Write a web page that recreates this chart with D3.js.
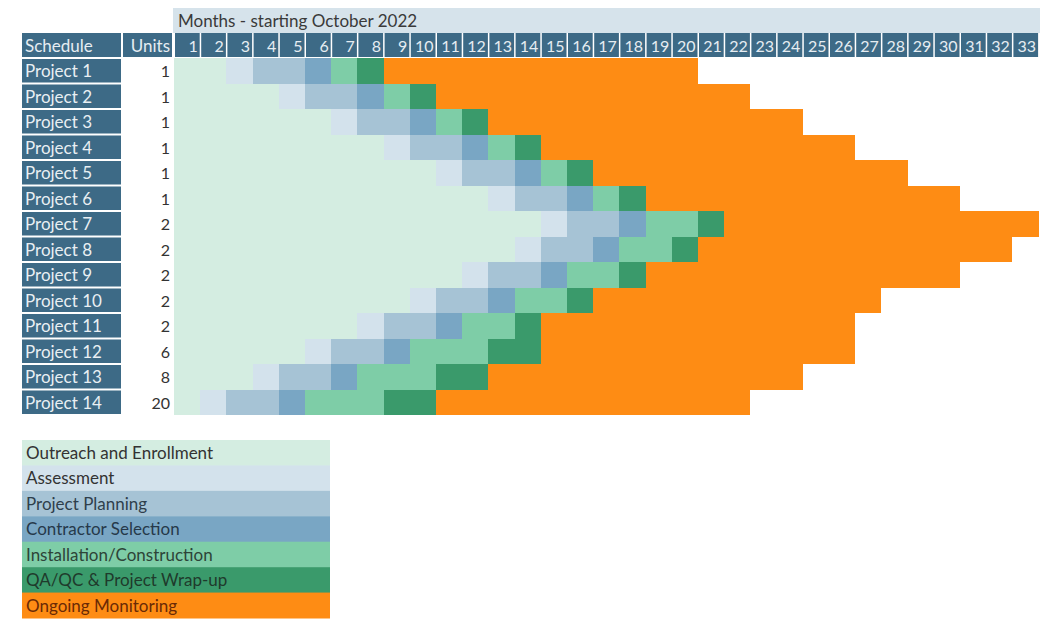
<!doctype html>
<html>
<head>
<meta charset="utf-8">
<script src="https://cdn.jsdelivr.net/npm/d3@7"></script>
<style>
  body { margin: 0; background: #fff; }
  text { font-family: Lato, "Open Sans", sans-serif; }
</style>
</head>
<body>
<div id="chart"></div>
<script>
// chart values
const projects = ["Project 1", "Project 2", "Project 3", "Project 4", "Project 5", "Project 6", "Project 7",
  "Project 8", "Project 9", "Project 10", "Project 11", "Project 12", "Project 13", "Project 14"];
const units = [1, 1, 1, 1, 1, 1, 2, 2, 2, 2, 2, 6, 8, 20];
const months = d3.range(1, 34);
const phases = ["Outreach and Enrollment", "Assessment", "Project Planning", "Contractor Selection",
  "Installation/Construction", "QA/QC & Project Wrap-up", "Ongoing Monitoring"];
const phaseColors = ["#d4ede1", "#d3e2ec", "#a6c3d5", "#79a6c4", "#7ecda7", "#3a9a6b", "#fe8c14"];
const phaseText = ["#333", "#333", "#2f3f4c", "#26394a", "#2d4438", "#1f3a2c", "#6a2a06"];
// months spent in each phase, per project (same order as phases)
const durations = [
  [2, 1, 2, 1, 1, 1, 12],
  [4, 1, 2, 1, 1, 1, 12],
  [6, 1, 2, 1, 1, 1, 12],
  [8, 1, 2, 1, 1, 1, 12],
  [10, 1, 2, 1, 1, 1, 12],
  [12, 1, 2, 1, 1, 1, 12],
  [14, 1, 2, 1, 2, 1, 12],
  [13, 1, 2, 1, 2, 1, 12],
  [11, 1, 2, 1, 2, 1, 12],
  [9, 1, 2, 1, 2, 1, 11],
  [7, 1, 2, 1, 2, 1, 12],
  [5, 1, 2, 1, 3, 2, 12],
  [3, 1, 2, 1, 3, 2, 12],
  [1, 1, 2, 1, 3, 2, 12]
];

var width = 1040, height = 628;
var headColor = "#3d6a86";
var lightText = "#e6edf2";

var svg = d3.select("#chart").append("svg")
  .attr("width", width).attr("height", height);

var x = d3.scaleBand().domain(months).range([174, 174 + 33 * 26.2]);
var y = d3.scaleBand().domain(projects).range([58, 415]);
var rowH = y.bandwidth();

// flatten into segments
var segs = [];
durations.forEach(function(d, i) {
  var start = 1;
  d.forEach(function(len, p) {
    segs.push({project: projects[i], phase: p, start: start, end: start + len - 1});
    start += len;
  });
});

// top band
svg.append("rect").attr("x", 173).attr("y", 8).attr("width", width - 173).attr("height", 25)
  .attr("fill", "#d6e3eb");
svg.append("text").attr("x", 178).attr("y", 27).attr("font-size", 17).attr("fill", "#3a3a3a")
  .text("Months - starting October 2022");

// header row
var hy = 33, hh = 25;
svg.append("rect").attr("x", 22).attr("y", hy).attr("width", 99).attr("height", hh - 1).attr("fill", headColor);
svg.append("text").attr("x", 25).attr("y", hy + 19).attr("font-size", 17).attr("fill", lightText).text("Schedule");
svg.append("rect").attr("x", 123).attr("y", hy).attr("width", 49).attr("height", hh - 1).attr("fill", headColor);
svg.append("text").attr("x", 170).attr("y", hy + 19).attr("font-size", 17).attr("text-anchor", "end")
  .attr("fill", lightText).text("Units");

svg.selectAll(".mhead").data(months).enter().append("rect")
  .attr("class", "mhead")
  .attr("x", d => x(d) + 1)
  .attr("y", hy)
  .attr("width", x.bandwidth() - 1.5)
  .attr("height", hh - 1)
  .attr("fill", headColor);
svg.selectAll(".mlab").data(months).enter().append("text")
  .attr("class", "mlab")
  .attr("x", d => x(d) + x.bandwidth() - 2.5)
  .attr("y", hy + 19)
  .attr("text-anchor", "end")
  .attr("font-size", 16)
  .attr("fill", lightText)
  .text(d => d);

// project label cells
svg.selectAll(".plab").data(projects).enter().append("rect")
  .attr("class", "plab")
  .attr("x", 22).attr("y", d => y(d) + 1)
  .attr("width", 99).attr("height", rowH - 2)
  .attr("fill", headColor);
svg.selectAll(".ptxt").data(projects).enter().append("text")
  .attr("class", "ptxt")
  .attr("x", 25).attr("y", d => y(d) + 19)
  .attr("font-size", 17).attr("fill", "#e9eff3")
  .text(d => d);
svg.selectAll(".utxt").data(units).enter().append("text")
  .attr("class", "utxt")
  .attr("x", 170).attr("y", (d, i) => y(projects[i]) + 19)
  .attr("text-anchor", "end")
  .attr("font-size", 16).attr("fill", "#333")
  .text(d => d);

// gantt cells
svg.append("g").attr("shape-rendering", "crispEdges")
  .selectAll("rect").data(segs).enter().append("rect")
  .attr("x", d => x(d.start))
  .attr("y", d => y(d.project))
  .attr("width", d => x(d.end) + x.bandwidth() - x(d.start))
  .attr("height", rowH)
  .attr("fill", d => phaseColors[d.phase]);

// legend
var ly = d3.scaleBand().domain(phases).range([440, 618]);
var leg = svg.append("g").selectAll("g").data(phases).enter().append("g")
  .attr("transform", d => "translate(22," + ly(d) + ")");
leg.append("rect").attr("width", 308).attr("height", ly.bandwidth() + 0.5)
  .attr("fill", (d, i) => phaseColors[i]);
leg.append("text").attr("x", 4).attr("y", 19).attr("font-size", 17)
  .attr("fill", (d, i) => phaseText[i])
  .text(d => d);
</script>
</body>
</html>
